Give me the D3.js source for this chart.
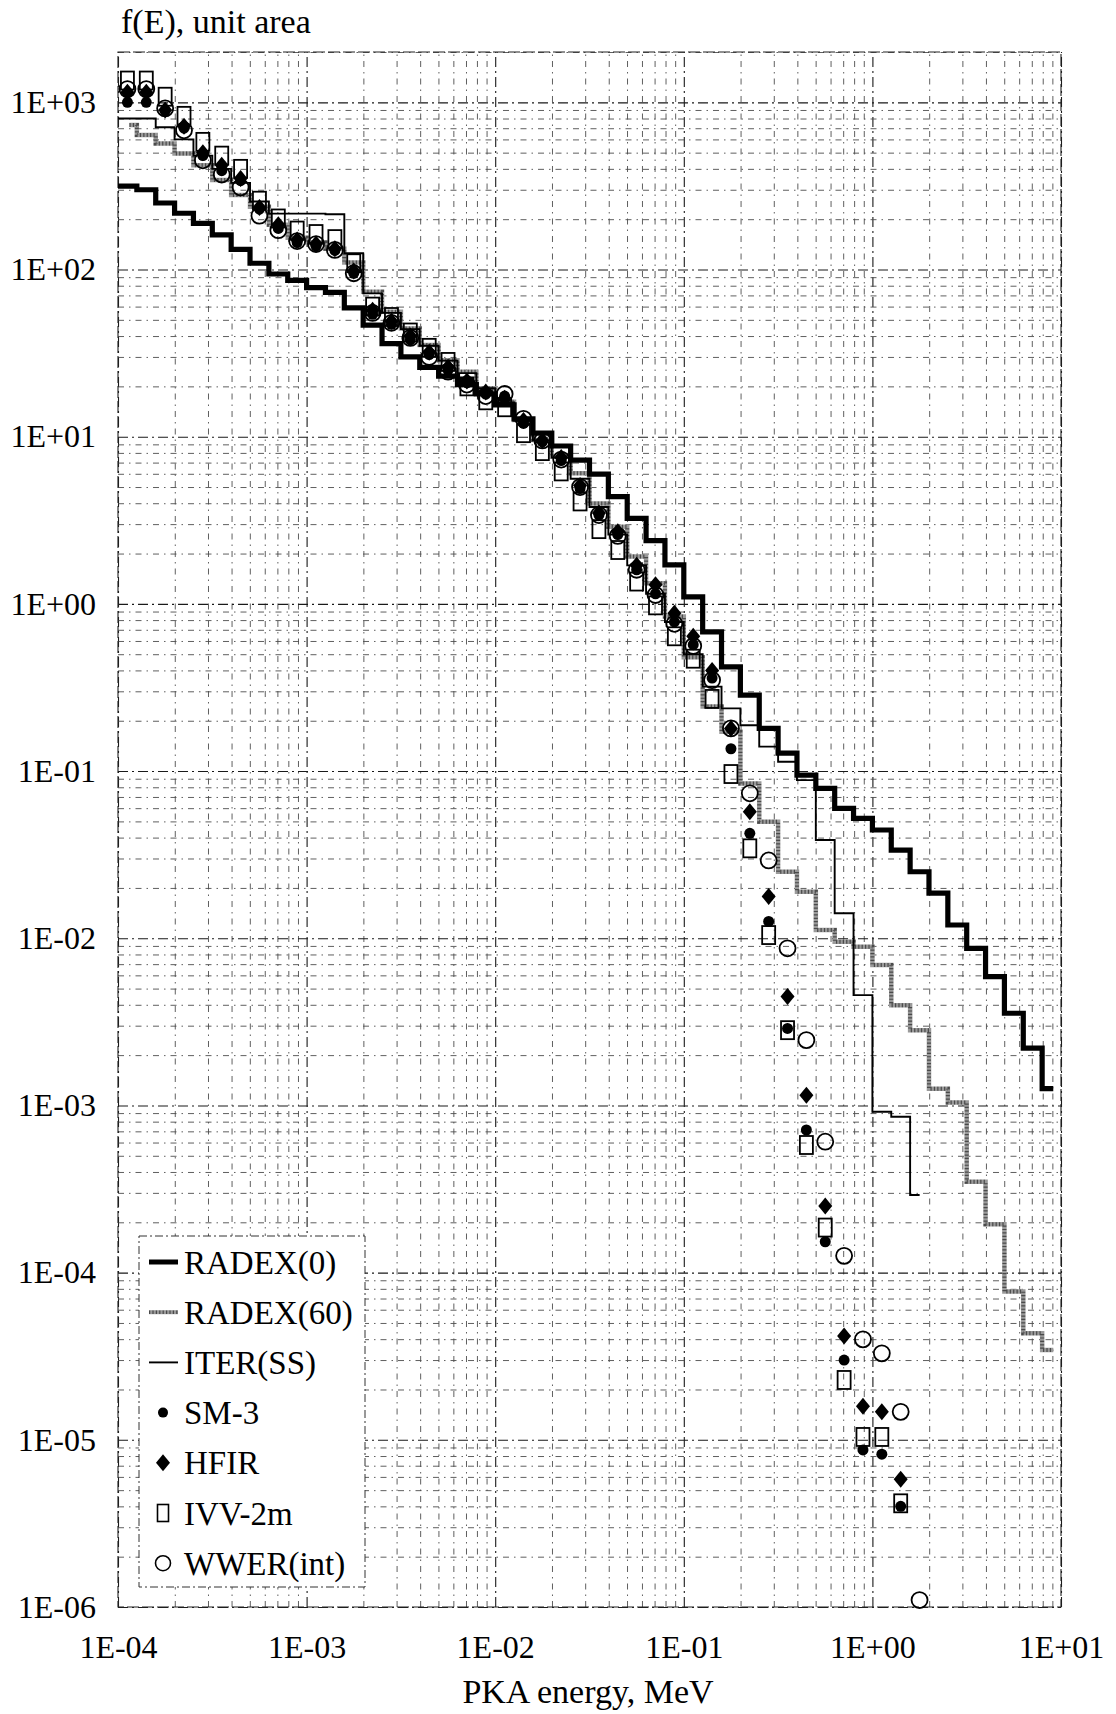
<!DOCTYPE html>
<html>
<head>
<meta charset="utf-8">
<script src="https://cdn.jsdelivr.net/npm/d3@7"></script>
<style>
  html, body { margin: 0; padding: 0; background: #fff; }
  svg { display: block; }
  text { font-family: "Liberation Serif", "Times New Roman", serif; fill: #000; }
</style>
</head>
<body>
<svg id="chart" width="1116" height="1714"></svg>
<script>
// ---------------- DATA ----------------
// Histogram bins: 10 per decade starting at 1E-04 MeV (bin k spans 10^(-4+k/10) .. 10^(-4+(k+1)/10))
const binOrigin = 1e-4;
const binsPerDecade = 10;

const xTickValues = [1e-4, 1e-3, 1e-2, 1e-1, 1e0, 1e1];
const xTickLabels = ["1E-04", "1E-03", "1E-02", "1E-01", "1E+00", "1E+01"];
const yTickValues = [1e3, 1e2, 1e1, 1e0, 1e-1, 1e-2, 1e-3, 1e-4, 1e-5, 1e-6];
const yTickLabels = ["1E+03", "1E+02", "1E+01", "1E+00", "1E-01", "1E-02", "1E-03", "1E-04", "1E-05", "1E-06"];

// Step-line series (value per bin)
const radex0 = [315, 300, 250, 217, 189, 161, 132, 109, 94, 86, 78, 73, 59, 46.5, 36, 30, 26, 23, 20.5, 18, 15.5, 12.8, 10.5, 8.8,
  7.25, 5.97, 4.38, 3.25, 2.39, 1.71, 1.10, 0.68, 0.42, 0.285, 0.180, 0.128, 0.0947, 0.0788, 0.0598, 0.0521,
  0.0444, 0.0337, 0.0250, 0.0186, 0.0120, 0.00871, 0.00589, 0.00356, 0.00220, 0.00126];
const radex60 = [731, 637, 568, 494, 421, 343, 279, 237, 185, 155, 145, 133, 110, 73.6, 55.8, 44.4, 35.3, 28.7, 24.5, 19.5,
  16.2, 12.6, 9.55, 7.59, 6.04, 3.99, 2.89, 1.92, 1.33, 0.84, 0.48, 0.243, 0.172, 0.0843, 0.0498, 0.0250, 0.0190,
  0.0112, 0.00953, 0.00890, 0.00691, 0.00398, 0.00282, 0.00126, 0.00104, 0.000350, 0.000195, 0.0000770, 0.0000434, 0.0000344];
const iterSS = [800, 800, 710, 600, 480, 400, 330, 255, 216, 216, 216, 214, 125, 72, 55, 44, 35, 28.5, 24, 19.5, 16, 12.5,
  9.5, 7.5, 5.6, 3.8, 2.6, 1.7, 1.15, 0.78, 0.50, 0.32, 0.237, 0.188, 0.140, 0.1137, 0.0883, 0.0387, 0.0141, 0.00457,
  0.000917, 0.000856, 0.000291];
// start / end energies of the drawn step lines (MeV)
const radex0Range = [1e-4, 9.1];
const radex60Range = [1.15e-4, 9.1];
const iterRange = [1e-4, 1.78];

// Point series (value at each bin centre)
const sm3 = [1000, 1000, 890, 700, 480, 390, 340, 230, 176, 145, 138, 130, 95, 54, 47, 38, 31, 25, 21, 18, 17.5, 12, 9.3, 7.2,
  4.9, 3.4, 2.6, 1.6, 1.15, 0.78, 0.57, 0.36, 0.136, 0.0424, 0.0126, 0.00289, 0.000713, 0.000153, 3.0e-5, 8.7e-6, 8.2e-6, 4.0e-6];
const hfir = [1150, 1150, 900, 720, 500, 420, 350, 235, 185, 150, 142, 133, 98, 57, 49, 40, 32, 26, 21.5, 18.5, 17, 12.5, 9.5, 7.5,
  5.1, 3.5, 2.7, 1.7, 1.3, 0.88, 0.64, 0.40, 0.18, 0.0571, 0.0178, 0.00448, 0.00115, 0.00025, 4.18e-5, 1.59e-5, 1.47e-5, 5.8e-6];
const ivv2m = [1350, 1350, 1080, 830, 580, 480, 400, 258, 202, 171, 163, 152, 109, 60, 52, 42, 34, 28, 20, 16.5, 15, 10.5, 8.2, 6.2,
  4.1, 2.8, 2.1, 1.36, 0.98, 0.64, 0.47, 0.27, 0.096, 0.0345, 0.01045, 0.00282, 0.00058, 0.000186, 2.28e-5, 1.04e-5, 1.04e-5, 4.17e-6];
const wwer = [1200, 1200, 920, 680, 450, 370, 310, 210, 172, 148, 142, 131, 95, 55, 48, 39, 30, 24.5, 20.5, 17.5, 18, 12.8, 9.5, 7.3,
  5.0, 3.4, 2.55, 1.6, 1.13, 0.76, 0.56, 0.35, 0.18, 0.0736, 0.0292, 0.00871, 0.00246, 0.000607, 0.000126, 3.99e-5, 3.29e-5, 1.47e-5, 1.1e-6];

const legendNames = ["RADEX(0)", "RADEX(60)", "ITER(SS)", "SM-3", "HFIR", "IVV-2m", "WWER(int)"];
const yTitle = "f(E), unit area";
const xTitle = "PKA energy, MeV";

// ---------------- LAYOUT ----------------
const svg = d3.select("#chart");
const L = 118, R = 1061, T = 52, B = 1607;
const x = d3.scaleLog().domain([1e-4, 10]).range([L, R]);
const y = d3.scaleLog().domain([1e-6, 2000]).range([B, T]);

const edge = k => binOrigin * Math.pow(10, k / binsPerDecade);
const centre = k => binOrigin * Math.pow(10, (k + 0.5) / binsPerDecade);

// ---------------- GRID ----------------
function minorValues(lo, hi) {
  const out = [];
  for (let e = lo; e < hi; e++) for (let m = 1; m <= 9; m++) out.push(m * Math.pow(10, e));
  out.push(Math.pow(10, hi));
  return out;
}
const xGridVals = minorValues(-4, 1);
const yGridVals = minorValues(-6, 3).concat([2000]);

function styleGrid(sel, major) {
  sel.attr("stroke", major ? "#1a1a1a" : "#4d4d4d")
    .attr("stroke-width", major ? 1.1 : 0.9)
    .attr("stroke-dasharray", major ? "10,4,2,4" : "6,5,1.5,5");
}
const grid = svg.append("g");
grid.append("g").attr("transform", `translate(0,${B})`)
  .call(d3.axisBottom(x).tickValues(xGridVals.filter(v => !xTickValues.includes(v))).tickSize(-(B - T)).tickFormat(""))
  .call(g => g.select(".domain").remove())
  .selectAll("line").call(s => styleGrid(s, false));
grid.append("g").attr("transform", `translate(0,${B})`)
  .call(d3.axisBottom(x).tickValues(xTickValues).tickSize(-(B - T)).tickFormat(""))
  .call(g => g.select(".domain").remove())
  .selectAll("line").call(s => styleGrid(s, true));
grid.append("g").attr("transform", `translate(${L},0)`)
  .call(d3.axisLeft(y).tickValues(yGridVals.filter(v => !yTickValues.includes(v))).tickSize(-(R - L)).tickFormat(""))
  .call(g => g.select(".domain").remove())
  .selectAll("line").call(s => styleGrid(s, false));
grid.append("g").attr("transform", `translate(${L},0)`)
  .call(d3.axisLeft(y).tickValues(yTickValues).tickSize(-(R - L)).tickFormat(""))
  .call(g => g.select(".domain").remove())
  .selectAll("line").call(s => styleGrid(s, true));

svg.append("rect").attr("x", L).attr("y", T).attr("width", R - L).attr("height", B - T)
  .attr("fill", "none").attr("stroke", "#222").attr("stroke-width", 1.1).attr("stroke-dasharray", "12,3");

// ---------------- AXES LABELS ----------------
const xAxis = svg.append("g").attr("transform", `translate(0,${B})`)
  .call(d3.axisBottom(x).tickValues(xTickValues).tickSize(0).tickPadding(28)
    .tickFormat((d, i) => xTickLabels[i]));
xAxis.select(".domain").remove();
xAxis.selectAll("text").attr("font-size", 32).attr("font-family", "Liberation Serif, serif").attr("fill", "#000");

const yAxis = svg.append("g").attr("transform", `translate(${L},0)`)
  .call(d3.axisLeft(y).tickValues(yTickValues).tickSize(0).tickPadding(22)
    .tickFormat((d, i) => yTickLabels[i]));
yAxis.select(".domain").remove();
yAxis.selectAll("text").attr("font-size", 32).attr("font-family", "Liberation Serif, serif").attr("fill", "#000");

svg.append("text").attr("x", 121).attr("y", 33).attr("font-size", 34).text(yTitle);
svg.append("text").attr("x", 588).attr("y", 1703).attr("text-anchor", "middle").attr("font-size", 34).text(xTitle);

// ---------------- STEP LINES ----------------
function stepPoints(values, range) {
  const pts = values.map((v, k) => [k === 0 ? range[0] : edge(k), v]);
  pts.push([range[1], values[values.length - 1]]);
  return pts;
}
const stepLine = d3.line().x(d => x(d[0])).y(d => y(d[1])).curve(d3.curveStepAfter);

const lines = svg.append("g").attr("fill", "none").attr("stroke-linejoin", "miter");
lines.append("path").attr("d", stepLine(stepPoints(radex60, radex60Range)))
  .attr("stroke", "#9a9a9a").attr("stroke-width", 4.5);
lines.append("path").attr("d", stepLine(stepPoints(radex60, radex60Range)))
  .attr("stroke", "#4a4a4a").attr("stroke-width", 4).attr("stroke-dasharray", "1.2,2.2");
lines.append("path").attr("d", stepLine(stepPoints(iterSS, iterRange)))
  .attr("stroke", "#000").attr("stroke-width", 1.9);
lines.append("path").attr("d", stepLine(stepPoints(radex0, radex0Range)))
  .attr("stroke", "#000").attr("stroke-width", 5.2);

// ---------------- MARKERS ----------------
const pts = arr => arr.map((v, k) => ({ e: centre(k), v })).filter(d => d.v != null);
const mk = svg.append("g");
const diamondPath = "M0,-8.5L7,0L0,8.5L-7,0Z";

mk.selectAll(".ivv").data(pts(ivv2m)).join("rect")
  .attr("x", d => x(d.e) - 6.5).attr("y", d => y(d.v) - 9).attr("width", 13).attr("height", 18)
  .attr("fill", "none").attr("stroke", "#000").attr("stroke-width", 1.8);
mk.selectAll(".wwer").data(pts(wwer)).join("circle")
  .attr("cx", d => x(d.e)).attr("cy", d => y(d.v)).attr("r", 8)
  .attr("fill", "none").attr("stroke", "#000").attr("stroke-width", 1.8);
mk.selectAll(".hfir").data(pts(hfir)).join("path")
  .attr("transform", d => `translate(${x(d.e)},${y(d.v)})`).attr("d", diamondPath).attr("fill", "#000");
mk.selectAll(".sm3").data(pts(sm3)).join("circle")
  .attr("cx", d => x(d.e)).attr("cy", d => y(d.v)).attr("r", 5.5).attr("fill", "#000");

// ---------------- LEGEND ----------------
const lg = svg.append("g");
lg.append("rect").attr("x", 139).attr("y", 1236).attr("width", 226).attr("height", 351)
  .attr("fill", "#fff").attr("stroke", "#333").attr("stroke-width", 1).attr("stroke-dasharray", "8,3,2,3");
const rowY = i => 1262 + i * 50.2;
const lx0 = 149, lx1 = 178, mx = 163, tx = 184;
lg.append("line").attr("x1", lx0).attr("x2", lx1).attr("y1", rowY(0)).attr("y2", rowY(0)).attr("stroke", "#000").attr("stroke-width", 5);
lg.append("line").attr("x1", lx0).attr("x2", lx1).attr("y1", rowY(1)).attr("y2", rowY(1)).attr("stroke", "#9a9a9a").attr("stroke-width", 4);
lg.append("line").attr("x1", lx0).attr("x2", lx1).attr("y1", rowY(1)).attr("y2", rowY(1)).attr("stroke", "#4a4a4a").attr("stroke-width", 3.5).attr("stroke-dasharray", "1.2,2.2");
lg.append("line").attr("x1", lx0).attr("x2", lx1).attr("y1", rowY(2)).attr("y2", rowY(2)).attr("stroke", "#000").attr("stroke-width", 1.9);
lg.append("circle").attr("cx", mx).attr("cy", rowY(3)).attr("r", 5).attr("fill", "#000");
lg.append("path").attr("transform", `translate(${mx},${rowY(4)})`).attr("d", diamondPath).attr("fill", "#000");
lg.append("rect").attr("x", mx - 5.5).attr("y", rowY(5) - 8.5).attr("width", 11).attr("height", 17).attr("fill", "none").attr("stroke", "#000").attr("stroke-width", 1.6);
lg.append("circle").attr("cx", mx).attr("cy", rowY(6)).attr("r", 7.5).attr("fill", "none").attr("stroke", "#000").attr("stroke-width", 1.6);
lg.selectAll(".lt").data(legendNames).join("text")
  .attr("x", tx).attr("y", (d, i) => rowY(i)).attr("dy", "0.35em").attr("font-size", 33).text(d => d);
</script>
</body>
</html>
